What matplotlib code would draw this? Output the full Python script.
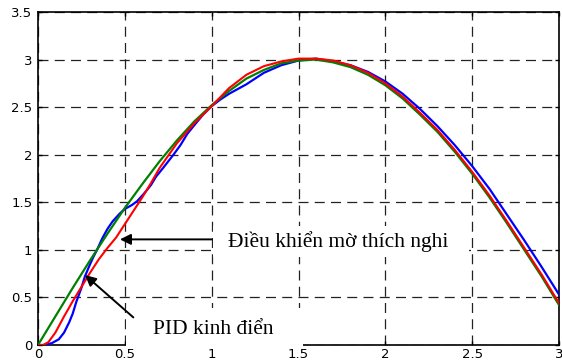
import matplotlib
matplotlib.use("Agg")
import matplotlib.pyplot as plt
from matplotlib.patches import Rectangle

# tín hiệu đặt (xanh lá)
t_ref = [0.0, 0.1, 0.2, 0.3, 0.4, 0.5, 0.6, 0.7, 0.8, 0.9, 1.0,
         1.1, 1.2, 1.3, 1.4, 1.5, 1.6, 1.7, 1.8, 1.9, 2.0,
         2.1, 2.2, 2.3, 2.4, 2.5, 2.6, 2.7, 2.8, 2.9, 3.0]
y_ref = [0.0, 0.30, 0.60, 0.89, 1.17, 1.44, 1.69, 1.93, 2.15, 2.35, 2.52,
         2.67, 2.80, 2.89, 2.96, 2.99, 3.00, 2.97, 2.92, 2.84, 2.73,
         2.59, 2.42, 2.24, 2.03, 1.80, 1.55, 1.28, 1.00, 0.72, 0.42]

# PID kinh điển (đỏ)
t_pid = [0.0, 0.03, 0.06, 0.1, 0.15, 0.2, 0.25, 0.3, 0.35, 0.4, 0.45, 0.5,
         0.55, 0.6, 0.65, 0.7, 0.8, 0.9, 1.0, 1.1, 1.2, 1.3, 1.4, 1.5,
         1.6, 1.7, 1.8, 1.9, 2.0, 2.1, 2.2, 2.3, 2.4, 2.5, 2.6, 2.7,
         2.8, 2.9, 3.0]
y_pid = [0.0, 0.0, 0.03, 0.13, 0.30, 0.46, 0.61, 0.76, 0.90, 1.02, 1.13, 1.27,
         1.41, 1.55, 1.70, 1.86, 2.12, 2.33, 2.51, 2.70, 2.84, 2.93, 2.98, 3.01,
         3.01, 2.99, 2.94, 2.86, 2.75, 2.61, 2.44, 2.26, 2.05, 1.82, 1.57, 1.30,
         1.02, 0.74, 0.44]

# điều khiển mờ thích nghi (xanh dương)
t_fuzzy = [0.0, 0.04, 0.08, 0.12, 0.15, 0.18, 0.2, 0.22, 0.25, 0.27, 0.3,
           0.32, 0.34, 0.37, 0.4, 0.43, 0.47, 0.5, 0.54, 0.57, 0.61, 0.65,
           0.68, 0.72, 0.78, 0.82, 0.86, 0.9, 0.95, 1.0, 1.05, 1.1, 1.15,
           1.2, 1.3, 1.4, 1.5, 1.6, 1.7, 1.8, 1.9, 2.0, 2.1, 2.2, 2.3,
           2.4, 2.5, 2.6, 2.7, 2.8, 2.9, 3.0]
y_fuzzy = [0.0, 0.0, 0.02, 0.06, 0.13, 0.24, 0.33, 0.45, 0.60, 0.72, 0.85,
           0.93, 1.00, 1.12, 1.22, 1.30, 1.38, 1.43, 1.47, 1.51, 1.59, 1.68,
           1.77, 1.86, 2.00, 2.10, 2.22, 2.31, 2.42, 2.51, 2.58, 2.64, 2.69,
           2.74, 2.86, 2.94, 2.99, 3.01, 2.98, 2.94, 2.87, 2.77, 2.64, 2.48, 2.30,
           2.10, 1.88, 1.64, 1.37, 1.10, 0.82, 0.53]

x_ticks = [0, 0.5, 1, 1.5, 2, 2.5, 3]
x_labels = ["0", "0.5", "1", "1.5", "2", "2.5", "3"]
y_ticks = [0, 0.5, 1, 1.5, 2, 2.5, 3, 3.5]
y_labels = ["0", "0.5", "1", "1.5", "2", "2.5", "3", "3.5"]

label_fuzzy = "Điều khiển mờ thích nghi"
label_pid = "PID kinh điển"

fig = plt.figure(figsize=(5.62, 3.63), dpi=100)
ax = fig.add_axes([0.0676, 0.0496, 0.9271, 0.9174])

ax.plot(t_fuzzy, y_fuzzy, color="#0000ff", lw=1.6, zorder=3)
ax.plot(t_ref, y_ref, color="#008000", lw=1.6, zorder=3)
ax.plot(t_pid, y_pid, color="#ff0000", lw=1.5, zorder=3)

ax.set_xlim(0, 3)
ax.set_ylim(0, 3.5)
ax.set_xticks(x_ticks)
ax.set_xticklabels(x_labels)
ax.set_yticks(y_ticks)
ax.set_yticklabels(y_labels)
ax.tick_params(direction="in", top=True, right=True, length=3, width=1,
               labelsize=9.5)
ax.tick_params(axis="x", pad=2)
ax.tick_params(axis="y", pad=4)
for s in ax.spines.values():
    s.set_linewidth(1.2)

ax.grid(True, color="#222222", lw=0.9, linestyle=(0, (8, 5)))
ax.set_axisbelow(True)

# nền trắng sau chữ (che lưới và trục như hình gốc)
ax.add_patch(Rectangle((1.01, 0.93), 1.47, 0.32, facecolor="white",
                       edgecolor="none", zorder=2.6, clip_on=False))
ax.add_patch(Rectangle((0.505, -0.035), 1.02, 0.42, facecolor="white",
                       edgecolor="none", zorder=2.6, clip_on=False))

serif = ["Liberation Serif", "DejaVu Serif"]
ax.text(1.094, 1.03, label_fuzzy, fontsize=15.5, family=serif,
        va="baseline", ha="left", zorder=4)
ax.text(0.661, 0.12, label_pid, fontsize=15.5, family=serif,
        va="baseline", ha="left", zorder=4)

arrow = dict(arrowstyle="-|>", color="black", lw=1.4, mutation_scale=16,
             shrinkA=0, shrinkB=0)
ax.annotate("", xy=(0.472, 1.11), xytext=(1.0, 1.11), arrowprops=arrow,
            zorder=4)
ax.annotate("", xy=(0.271, 0.735), xytext=(0.549, 0.29), arrowprops=arrow,
            zorder=4)

fig.savefig("out.png", dpi=100)
